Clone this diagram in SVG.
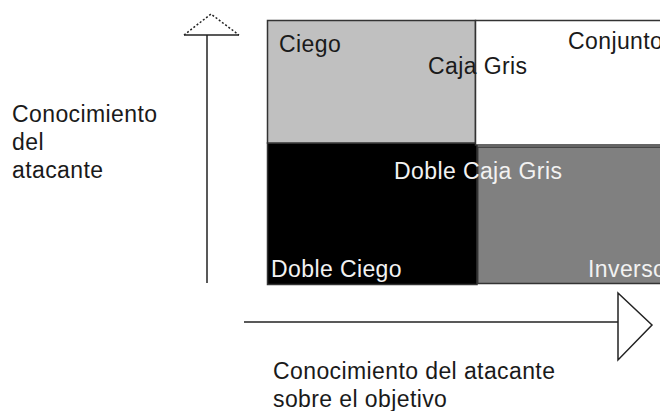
<svg xmlns="http://www.w3.org/2000/svg" width="660" height="411" viewBox="0 0 660 411">
<style>
.t{font-family:"Liberation Sans",Arial,sans-serif;font-size:23px;letter-spacing:0.4px}
.dk{fill:#1a1a1a}
.lt{fill:#f2f2f2}
.cell{stroke:#333;stroke-width:1.5}
.ax{stroke:#222;stroke-width:1.5;fill:none}
</style>
<rect width="660" height="411" fill="#fff"/>
<g id="cell-caja-gris-doble">
<rect class="cell" x="267.5" y="143" width="209.5" height="141.5" fill="#000"/>
</g>
<g id="cell-inverso">
<rect class="cell" x="477.7" y="147" width="200" height="136.5" fill="#808080"/>
</g>
<g id="cell-ciego">
<rect class="cell" x="267.5" y="20.5" width="208" height="122.5" fill="#c0c0c0"/>
</g>
<g id="cell-conjunto">
<rect class="cell" x="475.5" y="20.5" width="200" height="124.5" fill="#fff"/>
</g>
<g id="labels">
<text class="t dk" x="279" y="52">Ciego</text>
<text class="t dk" x="428" y="74">Caja Gris</text>
<text class="t dk" x="568" y="49">Conjunto</text>
<text class="t lt" x="394" y="179">Doble Caja Gris</text>
<text class="t lt" x="271" y="277">Doble Ciego</text>
<text class="t lt" x="588" y="277">Inverso</text>
</g>
<g id="connectors">
<line class="ax" x1="207" y1="35" x2="207" y2="283"/>
<line class="ax" x1="184" y1="35" x2="239" y2="35"/>
<polyline class="ax" points="184,35 211,14 239,35" stroke-dasharray="2,2"/>
<line class="ax" x1="244" y1="322" x2="618" y2="322"/>
<polygon class="ax" points="618,293 652,325 618,360"/>
</g>
<g id="axis-y-label">
<text class="t dk" x="12" y="122">Conocimiento</text>
<text class="t dk" x="12" y="150">del</text>
<text class="t dk" x="12" y="178">atacante</text>
</g>
<g id="axis-x-label">
<text class="t dk" x="273" y="379">Conocimiento del atacante</text>
<text class="t dk" x="273" y="407">sobre el objetivo</text>
</g>
</svg>
